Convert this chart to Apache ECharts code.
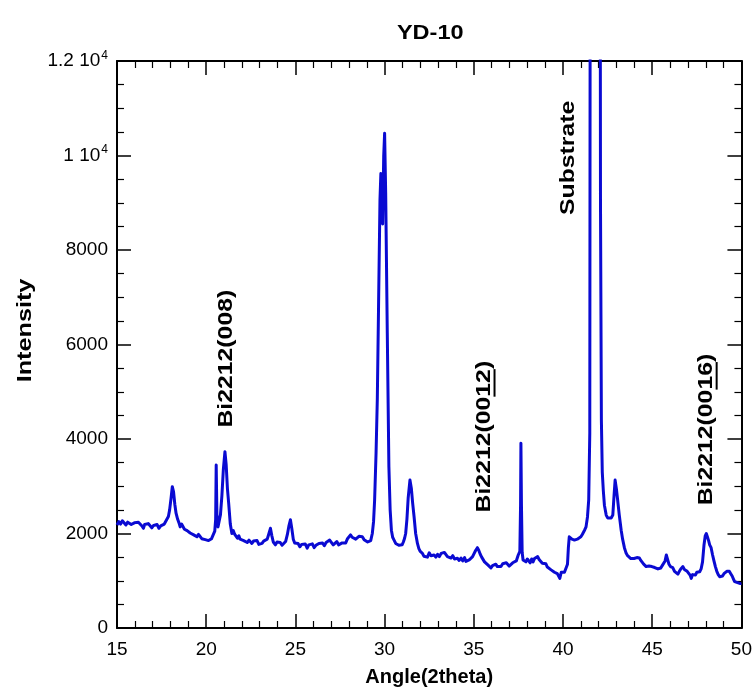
<!DOCTYPE html>
<html>
<head>
<meta charset="utf-8">
<script src="https://cdn.jsdelivr.net/npm/echarts@6/dist/echarts.min.js"></script>
<style>
html,body{margin:0;padding:0;background:#fff;}
#chart{width:755px;height:698px;}
</style>
</head>
<body>
<div id="chart"></div>
<script>
// ---- data: [angle 2theta, intensity] ----
var scanA = [
[15.0,2180],[15.1,2250],[15.2,2200],[15.3,2270],[15.4,2230],[15.5,2180],[15.6,2240],[15.7,2260],[15.8,2190],[15.9,2170],
[16.0,2230],[16.1,2200],[16.2,2240],[16.3,2250],[16.4,2160],[16.48,2110],[16.55,2190],[16.65,2150],[16.75,2210],[16.85,2180],
[16.95,2120],[17.05,2170],[17.15,2130],[17.25,2190],[17.35,2110],[17.45,2160],[17.55,2130],[17.65,2200],[17.75,2270],[17.88,2360],
[17.95,2500],[18.03,2750],[18.1,2990],[18.17,2880],[18.24,2620],[18.31,2430],[18.4,2300],[18.48,2220],[18.54,2140],[18.62,2200],
[18.7,2160],[18.78,2090],[18.85,2120],[18.93,2060],[19.0,2070],[19.1,2010],[19.2,2040],[19.3,1970],[19.4,1990],[19.48,1930],
[19.57,1980],[19.65,1940],[19.75,1890],[19.85,1920],[19.95,1870],[20.04,1900],[20.13,1850],[20.22,1830],[20.3,1890],[20.4,1930],
[20.48,2050],[20.53,2300],[20.56,3450],[20.6,2400],[20.66,2140],[20.72,2250],[20.8,2400],[20.88,2800],[20.96,3350],[21.05,3730],
[21.12,3450],[21.19,2950],[21.26,2640],[21.35,2200],[21.44,2000],[21.52,2060],[21.6,1980],[21.68,2010],[21.75,1900],[21.83,1950],
[21.9,1880],[22.0,1910],[22.1,1850],[22.2,1880],[22.3,1810],[22.4,1860],[22.47,1830],[22.56,1790],[22.65,1840],[22.75,1800],
[22.85,1850],[22.95,1770],[23.05,1810],[23.13,1790],[23.22,1840],[23.32,1800],[23.42,1880],[23.5,1980],[23.6,2110],[23.68,1950],
[23.76,1820],[23.88,1760],[23.97,1820],[24.05,1780],[24.15,1810],[24.25,1750],[24.35,1760],[24.45,1830],[24.55,1980],[24.63,2150],
[24.72,2290],[24.8,2100],[24.88,1880],[24.96,1800],[25.05,1760],[25.15,1790],[25.25,1720],[25.35,1770],[25.45,1740],[25.55,1780],
[25.66,1690],[25.75,1760],[25.85,1720],[25.95,1780],[26.05,1700],[26.15,1750],[26.22,1720],[26.32,1790],[26.42,1760],[26.52,1800],
[26.62,1740],[26.72,1810],[26.82,1780],[26.92,1860],[27.02,1820],[27.12,1760],[27.22,1800],[27.32,1830],[27.42,1760],[27.53,1720]
];
var scanB = [
[27.62,1800],[27.72,1840],[27.82,1800],[27.92,1890],[28.02,1930],[28.09,1970],[28.18,1920],[28.28,1950],[28.38,1880],[28.46,1860],
[28.56,1940],[28.65,1900],[28.75,1930],[28.85,1870],[28.95,1850],[29.05,1820],[29.12,1790],[29.22,1850],[29.31,2000],[29.38,2250],
[29.44,2710],[29.52,3700],[29.59,4830],[29.66,6800],[29.74,9060],[29.79,9620],[29.84,9000],[29.89,8550],[29.95,10000],[30.0,10470],
[30.06,9200],[30.15,6240],[30.24,3410],[30.31,2500],[30.38,2070],[30.45,1920],[30.53,1860],[30.62,1790],[30.7,1830],[30.8,1750],
[30.9,1720],[30.98,1760],[31.05,1820],[31.12,1900],[31.18,2000],[31.25,2300],[31.32,2750],[31.42,3130],[31.5,2950],[31.57,2650],
[31.65,2360],[31.74,2000],[31.84,1790],[31.92,1680],[32.0,1620],[32.12,1580],[32.2,1520],[32.3,1560],[32.4,1500],[32.5,1590],
[32.6,1530],[32.7,1570],[32.77,1545],[32.87,1500],[32.97,1560],[33.07,1510],[33.17,1580],[33.27,1540],[33.35,1600],[33.43,1615],
[33.52,1510],[33.62,1550],[33.72,1480],[33.82,1530],[33.92,1460],[34.0,1500],[34.08,1475],[34.18,1430],[34.28,1480],[34.38,1420],
[34.48,1490],[34.56,1410],[34.65,1370],[34.74,1440],[34.84,1420],[34.93,1510],[35.02,1580],[35.1,1640],[35.2,1700],[35.28,1640],
[35.36,1560],[35.44,1500],[35.52,1460],[35.6,1400],[35.7,1380],[35.8,1330],[35.88,1300],[35.96,1270],[36.05,1320],[36.14,1290],
[36.23,1350],[36.32,1300],[36.42,1340],[36.52,1300],[36.62,1360],[36.72,1320],[36.82,1380],[36.9,1350],[36.98,1310],[37.08,1330],
[37.18,1380],[37.28,1360],[37.38,1420],[37.49,1545],[37.58,1620],[37.62,2600],[37.64,3910],[37.67,2600],[37.71,1600],[37.76,1440],
[37.84,1480],[37.92,1400],[38.0,1460],[38.08,1430],[38.16,1380],[38.24,1460],[38.32,1400],[38.4,1470],[38.48,1440],[38.58,1510],
[38.66,1450],[38.75,1420],[38.84,1370],[38.95,1330],[39.04,1360],[39.12,1290],[39.22,1310],[39.33,1230],[39.42,1260],[39.52,1180]
];
var scanC = [
[39.6,1220],[39.68,1150],[39.75,1170],[39.82,1050],[39.9,1180],[40.0,1220],[40.08,1180],[40.17,1160],[40.25,1350],[40.3,1700],
[40.35,1930],[40.43,1900],[40.5,1880],[40.58,1920],[40.64,1860],[40.72,1900],[40.8,1880],[40.9,1920],[41.0,1930],[41.08,1980],
[41.15,2020],[41.22,2080],[41.29,2140],[41.37,2350],[41.44,2710],[41.5,4120],[41.58,40000],[41.8,60000],[42.0,45000],[42.1,9000],
[42.15,4400],[42.2,3300],[42.26,2900],[42.32,2600],[42.42,2390],[42.5,2330],[42.6,2290],[42.7,2330],[42.79,2390],[42.86,2800],
[42.92,3130],[42.99,2950],[43.05,2750],[43.15,2400],[43.26,2070],[43.34,1880],[43.44,1700],[43.54,1580],[43.62,1530],[43.7,1500],
[43.8,1470],[43.9,1440],[43.98,1470],[44.06,1500],[44.14,1490],[44.2,1520],[44.28,1480],[44.36,1430],[44.44,1400],[44.52,1350],
[44.6,1370],[44.66,1300],[44.74,1340],[44.82,1310],[44.9,1350],[44.98,1300],[45.06,1320],[45.14,1280],[45.22,1300],[45.32,1250],
[45.4,1290],[45.48,1270],[45.56,1320],[45.64,1300],[45.72,1420],[45.79,1545],[45.86,1450],[45.94,1350],[46.02,1300],[46.07,1260],
[46.15,1280],[46.25,1200],[46.34,1220],[46.44,1140],[46.52,1200],[46.6,1250],[46.67,1230],[46.72,1300],[46.8,1240],[46.88,1260],
[46.96,1200],[47.04,1220],[47.12,1120],[47.19,1050],[47.26,1130],[47.34,1160],[47.42,1120],[47.5,1180],[47.58,1150],[47.66,1190],
[47.74,1250],[47.82,1400],[47.9,1750],[47.97,1950],[48.03,2000],[48.1,1920],[48.16,1850],[48.22,1760],[48.3,1700],[48.38,1550],
[48.46,1420],[48.54,1300],[48.62,1200],[48.7,1130],[48.78,1085],[48.86,1120],[48.94,1100],[49.02,1150],[49.1,1170],[49.18,1200],
[49.25,1230],[49.32,1200],[49.4,1150],[49.48,1100],[49.56,1030],[49.62,980],[49.7,1000],[49.78,960],[49.86,970],[49.94,940],
[50.0,945]
];
var xTicks = [15, 20, 25, 30, 35, 40, 45, 50];
var yTicks = [0, 2000, 4000, 6000, 8000, 10000, 12000];
var titleText = 'YD-10';
var xName = 'Angle(2theta)';
var yName = 'Intensity';
// annotations: [text before underline, underlined part, text after, anchor angle, anchor intensity]
var annoText = [
  ['Bi2212(008)', '', '', 21.12, 5700],
  ['Bi2212(00', '12', ')', 35.6, 4050],
  ['Substrate', '', '', 40.28, 9950],
  ['Bi2212(00', '16', ')', 48.05, 4200]
];

// ---- chart ----
var seriesData = scanA.concat(scanB, scanC);
var chart = echarts.init(document.getElementById('chart'), null, {renderer: 'canvas'});
var FONT = '"Liberation Sans", Arial, sans-serif';

function axisCommon(extra) {
  var base = {
    type: 'value',
    axisLine: {show: true, onZero: false, lineStyle: {color: '#000', width: 2}},
    axisTick: {show: true, inside: true, length: 14, lineStyle: {color: '#000', width: 1.5}},
    splitLine: {show: false},
    minorSplitLine: {show: false}
  };
  for (var k in extra) base[k] = extra[k];
  return base;
}

var yLabelFmt = function (v) {
  if (v >= 10000) {
    return '{m|' + (v / 10000) + ' 10}{e|4}';
  }
  return '{m|' + v + '}';
};

var option = {
  backgroundColor: '#fff',
  animation: false,
  grid: {left: 117, right: 13, top: 61, bottom: 70},
  xAxis: [
    axisCommon({
      position: 'bottom', min: xTicks[0], max: xTicks[xTicks.length - 1], interval: 5,
      minorTick: {show: true, splitNumber: 5, length: 7, lineStyle: {color: '#000', width: 1.2}},
      axisLabel: {show: true, color: '#000', fontSize: 19, fontFamily: FONT, margin: 12},
      name: xName, nameLocation: 'middle', nameGap: 39,
      nameTextStyle: {color: '#000', fontSize: 20, fontWeight: 'bold', fontFamily: FONT}
    }),
    axisCommon({
      position: 'top', min: xTicks[0], max: xTicks[xTicks.length - 1], interval: 5,
      minorTick: {show: true, splitNumber: 5, length: 7, lineStyle: {color: '#000', width: 1.2}},
      axisLabel: {show: false}
    })
  ],
  yAxis: [
    axisCommon({
      position: 'left', min: yTicks[0], max: yTicks[yTicks.length - 1], interval: 2000,
      minorTick: {show: true, splitNumber: 4, length: 7, lineStyle: {color: '#000', width: 1.2}},
      axisLabel: {
        show: true, color: '#000', margin: 9, formatter: yLabelFmt,
        rich: {
          m: {fontSize: 19, fontFamily: FONT, color: '#000'},
          e: {fontSize: 12, fontFamily: FONT, color: '#000', padding: [0, 0, 11, 1]}
        }
      }
    }),
    axisCommon({
      position: 'right', min: yTicks[0], max: yTicks[yTicks.length - 1], interval: 2000,
      minorTick: {show: true, splitNumber: 4, length: 7, lineStyle: {color: '#000', width: 1.2}},
      axisLabel: {show: false}
    })
  ],
  series: [{
    type: 'line',
    xAxisIndex: 0,
    yAxisIndex: 0,
    data: seriesData,
    showSymbol: false,
    symbol: 'none',
    clip: true,
    lineStyle: {color: '#0a0ad2', width: 3, join: 'round'}
  }]
};
chart.setOption(option);

// ---- title, y name and peak annotations as graphic text ----
var cv = document.createElement('canvas').getContext('2d');
var annoFont = 'bold 21px ' + FONT;
cv.font = annoFont;
var SCALE = 1.18;
var graphics = [];
var tl = chart.convertToPixel({xAxisIndex: 0, yAxisIndex: 0}, [xTicks[0], yTicks[yTicks.length - 1]]);
var br = chart.convertToPixel({xAxisIndex: 0, yAxisIndex: 0}, [xTicks[xTicks.length - 1], yTicks[0]]);
graphics.push({
  type: 'text',
  x: (tl[0] + br[0]) / 2 + 1, y: tl[1] - 28, scaleX: 1.12,
  style: {text: titleText, font: 'bold 21px ' + FONT, fill: '#000', textAlign: 'center', textVerticalAlign: 'middle'}
});
graphics.push({
  type: 'text',
  x: tl[0] - 92, y: (tl[1] + br[1]) / 2 - 14, rotation: Math.PI / 2, scaleX: 1.2,
  style: {text: yName, font: 'bold 21px ' + FONT, fill: '#000', textAlign: 'center', textVerticalAlign: 'middle'}
});
annoText.forEach(function (a) {
  var full = a[0] + a[1] + a[2];
  var W = cv.measureText(full).width;
  var w1 = cv.measureText(a[0]).width;
  var w2 = cv.measureText(a[0] + a[1]).width;
  var p = chart.convertToPixel({xAxisIndex: 0, yAxisIndex: 0}, [a[3], a[4]]);
  var children = [{
    type: 'text', x: -W / 2, y: 0,
    style: {text: full, font: annoFont, fill: '#000', textAlign: 'left', textVerticalAlign: 'middle'}
  }];
  if (a[1]) {
    children.push({
      type: 'line',
      shape: {x1: -W / 2 + w1, y1: 10, x2: -W / 2 + w2, y2: 10},
      style: {stroke: '#000', lineWidth: 2}
    });
  }
  graphics.push({type: 'group', x: p[0], y: p[1], rotation: Math.PI / 2, scaleX: SCALE, children: children});
});
chart.setOption({graphic: graphics});
</script>
</body>
</html>
